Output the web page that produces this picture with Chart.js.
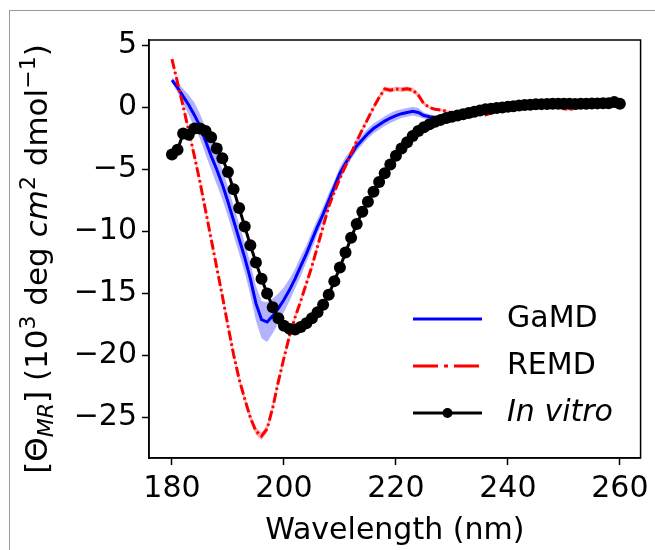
<!DOCTYPE html>
<html>
<head>
<meta charset="utf-8">
<script src="https://cdn.jsdelivr.net/npm/chart.js@4.4.1/dist/chart.umd.min.js"></script>
<style>
  body { margin: 0; background: #fff; }
  #frame { position: absolute; left: 9px; top: 10px; right: 0; bottom: 0; border-left: 1px solid #999; border-top: 1px solid #999; }
  #cd { position: absolute; left: 0; top: 0; }
</style>
</head>
<body>
<div id="frame"></div>
<canvas id="cd" width="655" height="550"></canvas>
<script>
// wavelength grid (nm)
const wavelengths = [180, 181, 182, 183, 184, 185, 186, 187, 188, 189,
  190, 191, 192, 193, 194, 195, 196, 197, 198, 199,
  200, 201, 202, 203, 204, 205, 206, 207, 208, 209,
  210, 211, 212, 213, 214, 215, 216, 217, 218, 219,
  220, 221, 222, 223, 224, 225, 226, 227, 228, 229,
  230, 231, 232, 233, 234, 235, 236, 237, 238, 239,
  240, 241, 242, 243, 244, 245, 246, 247, 248, 249,
  250, 251, 252, 253, 254, 255, 256, 257, 258, 259, 260];

const gamdMean = [2.2, 1.6, 0.9, 0.2, -0.6, -1.5, -2.7, -3.9, -5.0, -6.2,
  -7.6, -9.1, -10.6, -12.1, -13.8, -15.8, -17.1, -17.3, -16.8, -16.2,
  -15.5, -14.7, -13.8, -12.8, -11.8, -10.7, -9.6, -8.6, -7.5, -6.4,
  -5.3, -4.5, -3.8, -3.1, -2.6, -2.1, -1.7, -1.4, -1.1, -0.85,
  -0.65, -0.5, -0.4, -0.3, -0.4, -0.65, -0.75, -0.8, -0.75, -0.7,
  -0.6, -0.55, -0.5, -0.45, -0.4, -0.3, -0.25, -0.2, -0.1, 0.0,
  0.05, 0.1, 0.12, 0.15, 0.18, 0.2, 0.2, 0.22, 0.22, 0.24,
  0.25, 0.25, 0.26, 0.26, 0.27, 0.28, 0.28, 0.3, 0.3, 0.35, 0.3];

const gamdStd = [0.2, 0.4, 0.6, 0.8, 1.0, 1.0, 1.1, 1.1, 1.2, 1.2,
  1.2, 1.2, 1.2, 1.2, 1.3, 1.4, 1.5, 1.6, 1.4, 1.2,
  1.0, 0.9, 0.8, 0.8, 0.7, 0.7, 0.6, 0.6, 0.6, 0.5,
  0.5, 0.5, 0.4, 0.4, 0.4, 0.4, 0.4, 0.4, 0.4, 0.4,
  0.4, 0.35, 0.35, 0.35, 0.35, 0.25, 0.2, 0.15, 0.15, 0.15,
  0.15, 0.1, 0.1, 0.1, 0.1, 0.1, 0.1, 0.1, 0.1, 0.1,
  0.1, 0.1, 0.1, 0.1, 0.1, 0.1, 0.1, 0.1, 0.1, 0.1,
  0.1, 0.1, 0.1, 0.1, 0.1, 0.1, 0.1, 0.1, 0.1, 0.1, 0.1];

const remd = [3.9, 2.0, 0.1, -1.9, -3.9, -6.0, -8.3, -10.6, -12.9, -15.2,
  -17.6, -19.9, -21.9, -23.5, -25.0, -26.1, -26.5, -25.9, -24.2, -22.1,
  -20.2, -18.4, -16.9, -15.6, -14.2, -12.8, -11.2, -9.6, -8.0, -6.8,
  -5.7, -4.7, -3.7, -2.7, -1.8, -0.9, 0.0, 0.8, 1.5, 1.4,
  1.5, 1.45, 1.5, 1.4, 1.0, 0.3, 0.0, -0.15, -0.2, -0.3,
  -0.45, -0.5, -0.55, -0.5, -0.45, -0.5, -0.6, -0.45, -0.25, -0.1,
  0.0, 0.05, 0.1, 0.12, 0.15, 0.18, 0.2, 0.2, 0.15, 0.05,
  -0.1, -0.15, -0.1, 0.05, 0.15, 0.2, 0.25, 0.28, 0.3, 0.35, 0.3];

const remdStd = [0.2, 0.2, 0.2, 0.2, 0.2, 0.2, 0.2, 0.2, 0.2, 0.2,
  0.25, 0.25, 0.25, 0.25, 0.3, 0.3, 0.3, 0.3, 0.3, 0.25,
  0.25, 0.2, 0.2, 0.2, 0.2, 0.2, 0.2, 0.2, 0.2, 0.2,
  0.2, 0.2, 0.2, 0.2, 0.2, 0.2, 0.2, 0.2, 0.2, 0.2,
  0.2, 0.2, 0.2, 0.2, 0.2, 0.15, 0.1, 0.1, 0.1, 0.1,
  0.1, 0.1, 0.1, 0.1, 0.1, 0.1, 0.1, 0.1, 0.1, 0.1,
  0.1, 0.1, 0.1, 0.1, 0.1, 0.1, 0.1, 0.1, 0.1, 0.1,
  0.1, 0.1, 0.1, 0.1, 0.1, 0.1, 0.1, 0.1, 0.1, 0.1, 0.1];

const invitro = [-3.8, -3.4, -2.1, -2.2, -1.7, -1.7, -1.9, -2.4, -3.3, -4.1,
  -5.2, -6.6, -8.1, -9.6, -11.1, -12.5, -13.8, -15.0, -16.1, -17.0,
  -17.6, -17.85, -17.9, -17.7, -17.4, -17.0, -16.5, -15.9, -15.1, -14.0,
  -12.9, -11.7, -10.5, -9.4, -8.4, -7.6, -6.8, -6.0, -5.3, -4.6,
  -3.9, -3.3, -2.8, -2.3, -1.9, -1.6, -1.35, -1.15, -1.0, -0.85,
  -0.75, -0.65, -0.55, -0.45, -0.35, -0.25, -0.15, -0.1, -0.05, 0.0,
  0.05, 0.1, 0.15, 0.2, 0.22, 0.25, 0.27, 0.28, 0.3, 0.3,
  0.3, 0.3, 0.28, 0.3, 0.3, 0.32, 0.33, 0.34, 0.35, 0.45, 0.3];

const xTicks = [180, 200, 220, 240, 260];
const yTicks = [5, 0, -5, -10, -15, -20, -25];
const seriesNames = ['GaMD', 'REMD', 'In vitro'];

const FONT = '"DejaVu Sans", sans-serif';
const FS = 30;

function pts(vals) {
  return wavelengths.map((w, i) => ({ x: w, y: vals[i] }));
}

const gamdUpper = gamdMean.map((v, i) => v + gamdStd[i]);
const gamdLower = gamdMean.map((v, i) => v - gamdStd[i]);
const remdUpper = remd.map((v, i) => v + remdStd[i]);
const remdLower = remd.map((v, i) => v - remdStd[i]);

// axes box drawn on all four sides
const framePlugin = {
  id: 'frame',
  afterDatasetsDraw(chart) {
    const { ctx, chartArea: a } = chart;
    ctx.save();
    ctx.strokeStyle = '#000';
    ctx.lineWidth = 1.5;
    ctx.strokeRect(a.left, a.top, a.right - a.left, a.bottom - a.top);
    ctx.restore();
  }
};

// y title with sub/superscripts
const yTitlePlugin = {
  id: 'yTitle',
  afterDraw(chart) {
    const ctx = chart.ctx;
    const a = chart.chartArea;
    const fs = 31;
    const sm = Math.round(fs * 0.7);
    const parts = [
      { t: '[\u0398', f: `${fs}px ${FONT}`, dy: 0 },
      { t: 'MR', f: `italic ${sm}px ${FONT}`, dy: 6 },
      { t: '] (10', f: `${fs}px ${FONT}`, dy: 0 },
      { t: '3', f: `${sm}px ${FONT}`, dy: -12 },
      { t: ' deg ', f: `${fs}px ${FONT}`, dy: 0 },
      { t: 'cm', f: `italic ${fs}px ${FONT}`, dy: 0 },
      { t: '2', f: `${sm}px ${FONT}`, dy: -12 },
      { t: ' dmol', f: `${fs}px ${FONT}`, dy: 0 },
      { t: '\u22121', f: `${sm}px ${FONT}`, dy: -12 },
      { t: ')', f: `${fs}px ${FONT}`, dy: 0 }
    ];
    ctx.save();
    let total = 0;
    parts.forEach(p => { ctx.font = p.f; p.w = ctx.measureText(p.t).width; total += p.w; });
    ctx.translate(47, (a.top + a.bottom) / 2 + 10);
    ctx.rotate(-Math.PI / 2);
    ctx.fillStyle = '#000';
    ctx.textBaseline = 'alphabetic';
    let x = -total / 2;
    parts.forEach(p => {
      ctx.font = p.f;
      ctx.fillText(p.t, x, p.dy);
      x += p.w;
    });
    ctx.restore();
  }
};

// legend like matplotlib's (no frame)
const legendPlugin = {
  id: 'mplLegend',
  afterDraw(chart) {
    const ctx = chart.ctx;
    const x0 = 413, x1 = 482, tx = 507;
    const rows = [319, 366, 413];
    ctx.save();
    ctx.lineWidth = 3;
    // GaMD
    ctx.strokeStyle = '#0000ff';
    ctx.beginPath(); ctx.moveTo(x0, rows[0]); ctx.lineTo(x1, rows[0]); ctx.stroke();
    // REMD
    ctx.strokeStyle = '#ff0000';
    ctx.setLineDash([25, 6, 4, 6]);
    ctx.beginPath(); ctx.moveTo(x0, rows[1]); ctx.lineTo(x1, rows[1]); ctx.stroke();
    ctx.setLineDash([]);
    // In vitro
    ctx.strokeStyle = '#000';
    ctx.beginPath(); ctx.moveTo(x0, rows[2]); ctx.lineTo(x1, rows[2]); ctx.stroke();
    ctx.fillStyle = '#000';
    ctx.beginPath(); ctx.arc((x0 + x1) / 2, rows[2], 5, 0, Math.PI * 2); ctx.fill();
    // labels
    ctx.textBaseline = 'middle';
    ctx.textAlign = 'left';
    ctx.font = `${FS}px ${FONT}`;
    ctx.fillText(seriesNames[0], tx, rows[0]);
    ctx.fillText(seriesNames[1], tx, rows[1]);
    ctx.font = `italic ${FS}px ${FONT}`;
    ctx.fillText(seriesNames[2], tx, rows[2]);
    ctx.restore();
  }
};

const tickFont = { family: FONT, size: FS };

new Chart(document.getElementById('cd'), {
  type: 'line',
  data: {
    datasets: [
      {
        label: 'In vitro',
        data: pts(invitro),
        borderColor: '#000',
        backgroundColor: '#000',
        borderWidth: 3,
        pointRadius: 6,
        pointBorderWidth: 0,
        pointBackgroundColor: '#000',
        fill: false,
        order: 0
      },
      {
        label: 'REMD',
        data: pts(remd),
        borderColor: '#ff0000',
        borderWidth: 3,
        borderDash: [10, 3, 2.5, 3],
        pointRadius: 0,
        fill: false,
        order: 1
      },
      {
        label: 'GaMD',
        data: pts(gamdMean),
        borderColor: '#0000ff',
        borderWidth: 3,
        pointRadius: 0,
        fill: false,
        order: 2
      },
      {
        label: 'GaMD upper',
        data: pts(gamdUpper),
        borderWidth: 0,
        borderColor: 'rgba(0,0,255,0)',
        pointRadius: 0,
        fill: false,
        order: 3
      },
      {
        label: 'GaMD lower',
        data: pts(gamdLower),
        borderWidth: 0,
        borderColor: 'rgba(0,0,255,0)',
        backgroundColor: 'rgba(0,0,255,0.3)',
        pointRadius: 0,
        fill: '-1',
        order: 3
      },
      {
        label: 'REMD upper',
        data: pts(remdUpper),
        borderWidth: 0,
        borderColor: 'rgba(255,0,0,0)',
        pointRadius: 0,
        fill: false,
        order: 4
      },
      {
        label: 'REMD lower',
        data: pts(remdLower),
        borderWidth: 0,
        borderColor: 'rgba(255,0,0,0)',
        backgroundColor: 'rgba(255,0,0,0.3)',
        pointRadius: 0,
        fill: '-1',
        order: 4
      }
    ]
  },
  options: {
    responsive: false,
    animation: false,
    devicePixelRatio: 1,
    layout: { padding: { top: 40, right: 12, left: 0, bottom: 0 } },
    elements: { line: { tension: 0 } },
    plugins: {
      legend: { display: false },
      tooltip: { enabled: false }
    },
    scales: {
      x: {
        type: 'linear',
        min: 175.9,
        max: 263.7,
        afterBuildTicks: scale => { scale.ticks = xTicks.map(v => ({ value: v })); },
        afterFit: scale => { scale.height = 92; },
        ticks: { font: tickFont, color: '#000', padding: 6, maxRotation: 0, autoSkip: false,
          callback: v => String(v) },
        grid: { display: true, drawOnChartArea: false, drawTicks: true, tickLength: 7, tickWidth: 1.5, tickColor: '#000' },
        border: { display: true, color: '#000', width: 1.5 },
        title: { display: true, text: 'Wavelength (nm)', font: { family: FONT, size: FS }, color: '#000', padding: { top: 0, bottom: 1 } }
      },
      y: {
        type: 'linear',
        min: -28.26,
        max: 5.44,
        afterBuildTicks: scale => { scale.ticks = yTicks.map(v => ({ value: v })); },
        afterFit: scale => { scale.width = 149; },
        ticks: { font: tickFont, color: '#000', padding: 5, autoSkip: false,
          callback: v => String(v).replace('-', '\u2212') },
        grid: { display: true, drawOnChartArea: false, drawTicks: true, tickLength: 7, tickWidth: 1.5, tickColor: '#000' },
        border: { display: true, color: '#000', width: 1.5 }
      }
    }
  },
  plugins: [framePlugin, yTitlePlugin, legendPlugin]
});
</script>
</body>
</html>
